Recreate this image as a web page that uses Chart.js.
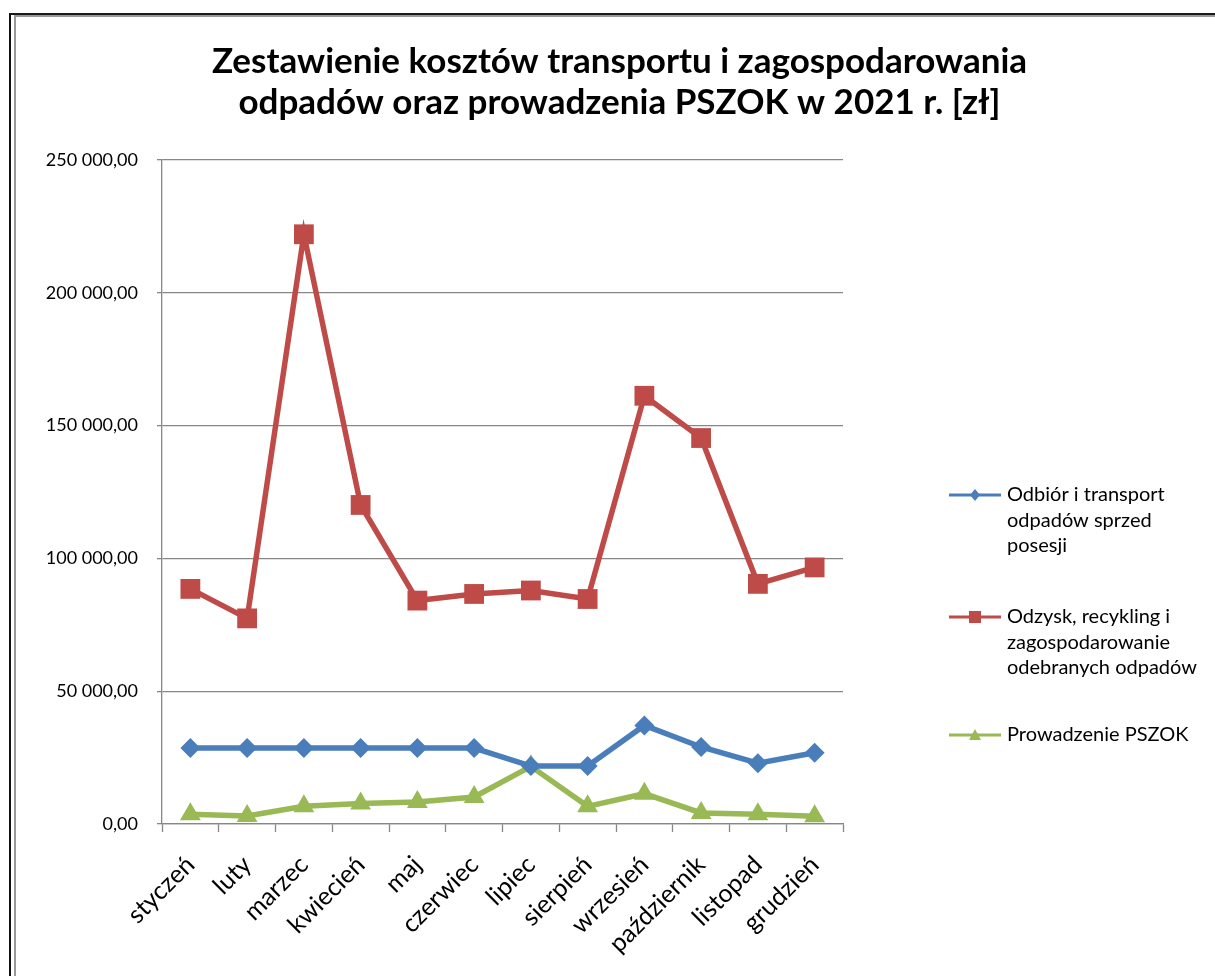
<!DOCTYPE html>
<html lang="pl">
<head>
<meta charset="utf-8">
<title>Zestawienie kosztów 2021</title>
<script src="https://cdn.jsdelivr.net/npm/chart.js@4"></script>
<style>
    html, body { margin: 0; padding: 0; background: #fff; }
    #kontener { position: relative; width: 1215px; height: 976px; overflow: hidden; }
    #wykres { position: absolute; left: 0; top: 0; }
    .ramka { position: absolute; right: -10px; bottom: -10px; }
    .ramka.zewn { left: 9px; top: 13px; border-left: 2px solid #111; border-top: 2px solid #1a1a1a; }
    .ramka.wewn { left: 14px; top: 15px; border-left: 2px solid #999; border-top: 2px solid #999; }
</style>
</head>
<body>
<div id="kontener">
    <canvas id="wykres" width="1215" height="976"></canvas>
    <div class="ramka zewn"></div>
    <div class="ramka wewn"></div>
</div>
<script>
// dane
const miesiace = ['styczeń', 'luty', 'marzec', 'kwiecień', 'maj', 'czerwiec',
    'lipiec', 'sierpień', 'wrzesień', 'październik', 'listopad', 'grudzień'];

const odbiorTransport = [28600, 28600, 28600, 28600, 28600, 28600,
    21800, 21800, 37100, 29000, 22900, 26800];
const odzyskRecykling = [88500, 77400, 222000, 120100, 84100, 86600,
    87900, 84700, 161200, 145300, 90400, 96600];
const prowadzeniePszok = [3650, 3000, 6650, 7700, 8300, 10150,
    21700, 6650, 11400, 4150, 3650, 2900];

const nazwySerii = [
    ['Odbiór i transport', 'odpadów sprzed', 'posesji'],
    ['Odzysk, recykling i', 'zagospodarowanie', 'odebranych odpadów'],
    ['Prowadzenie PSZOK']
];
const tytul = ['Zestawienie kosztów transportu i zagospodarowania',
    'odpadów oraz prowadzenia PSZOK w 2021 r. [zł]'];
const osY = { min: 0, max: 250000, krok: 50000 };

const FONT = 'Lato, Carlito, Calibri, sans-serif';
const SZARY = '#878787';

function formatujKwote(v) {
    const calk = Math.round(v).toString().replace(/\B(?=(\d{3})+(?!\d))/g, ' ');
    return calk + ',00';
}

// legenda rysowana recznie (wieloliniowe etykiety jak w Excelu)
const legendaExcel = {
    id: 'legendaExcel',
    afterDraw(chart) {
        const ctx = chart.ctx;
        const startY = [495, 617, 735];
        const xLinia = 949, xKoniec = 1001, xTekst = 1007, krokLinii = 25.5;
        ctx.save();
        chart.data.datasets.forEach((ds, i) => {
            const y = startY[i];
            ctx.strokeStyle = ds.borderColor;
            ctx.lineWidth = 3;
            ctx.beginPath();
            ctx.moveTo(xLinia, y);
            ctx.lineTo(xKoniec, y);
            ctx.stroke();
            rysujZnacznik(ctx, ds.pointStyle, (xLinia + xKoniec) / 2, y, ds.borderColor);

            ctx.fillStyle = '#000';
            ctx.font = '20px ' + FONT;
            ctx.textBaseline = 'middle';
            ctx.textAlign = 'left';
            nazwySerii[i].forEach((linia, j) => {
                ctx.fillText(linia, xTekst, y + j * krokLinii);
            });
        });
        ctx.restore();
    }
};

function rysujZnacznik(ctx, styl, x, y, kolor) {
    ctx.fillStyle = kolor;
    ctx.beginPath();
    if (styl === 'rect') {
        ctx.rect(x - 6, y - 6, 12, 12);
    } else if (styl === 'rectRot') {
        ctx.moveTo(x, y - 6);
        ctx.lineTo(x + 5, y);
        ctx.lineTo(x, y + 6);
        ctx.lineTo(x - 5, y);
        ctx.closePath();
    } else {
        ctx.moveTo(x, y - 6);
        ctx.lineTo(x + 6, y + 5);
        ctx.lineTo(x - 6, y + 5);
        ctx.closePath();
    }
    ctx.fill();
}

const ctx = document.getElementById('wykres').getContext('2d');
new Chart(ctx, {
    type: 'line',
    data: {
        labels: miesiace,
        datasets: [{
            label: nazwySerii[0].join(' '),
            data: odbiorTransport,
            borderColor: '#4a7ebb',
            backgroundColor: '#4a7ebb',
            borderWidth: 5.5,
            pointStyle: 'rectRot',
            pointRadius: 10,
            pointBorderWidth: 0
        }, {
            label: nazwySerii[1].join(' '),
            data: odzyskRecykling,
            borderColor: '#be4b48',
            backgroundColor: '#be4b48',
            borderWidth: 5.5,
            pointStyle: 'rect',
            pointRadius: 14,
            pointBorderWidth: 0
        }, {
            label: nazwySerii[2].join(' '),
            data: prowadzeniePszok,
            borderColor: '#98b954',
            backgroundColor: '#98b954',
            borderWidth: 5.5,
            pointStyle: 'triangle',
            pointRadius: 12,
            pointBorderWidth: 0
        }]
    },
    options: {
        responsive: false,
        animation: false,
        layout: { padding: { left: 24, right: 0, top: 18, bottom: 0 } },
        plugins: {
            legend: { display: false },
            tooltip: { enabled: false },
            title: {
                display: true,
                text: tytul,
                color: '#000',
                font: { family: FONT, size: 35, weight: 'bold', lineHeight: 1.17 },
                padding: { top: 23, bottom: 37 }
            }
        },
        scales: {
            x: {
                offset: true,
                grid: {
                    offset: true,
                    drawOnChartArea: false,
                    tickLength: 8,
                    tickColor: SZARY,
                    tickWidth: 1.3
                },
                border: { color: SZARY, width: 1.3 },
                ticks: {
                    color: '#000',
                    font: { family: FONT, size: 25 },
                    minRotation: 45,
                    maxRotation: 45,
                    padding: 18,
                    autoSkip: false
                },
                afterFit(scale) { scale.height = 152; }
            },
            y: {
                min: osY.min,
                max: osY.max,
                grid: {
                    color: SZARY,
                    lineWidth: 1.3,
                    tickLength: 5,
                    tickColor: SZARY
                },
                border: { color: SZARY, width: 1.3 },
                ticks: {
                    stepSize: osY.krok,
                    color: '#000',
                    font: { family: FONT, size: 18 },
                    padding: 19,
                    callback: (v) => formatujKwote(v)
                },
                afterFit(scale) { scale.width = 138; }
            },
            // pusta os po prawej - rezerwuje miejsce na legende
            miejsceLegendy: {
                type: 'linear',
                position: 'right',
                grid: { display: false },
                border: { display: false },
                ticks: { display: false },
                afterFit(scale) { scale.width = 372; }
            }
        }
    },
    plugins: [legendaExcel]
});
</script>
</body>
</html>
